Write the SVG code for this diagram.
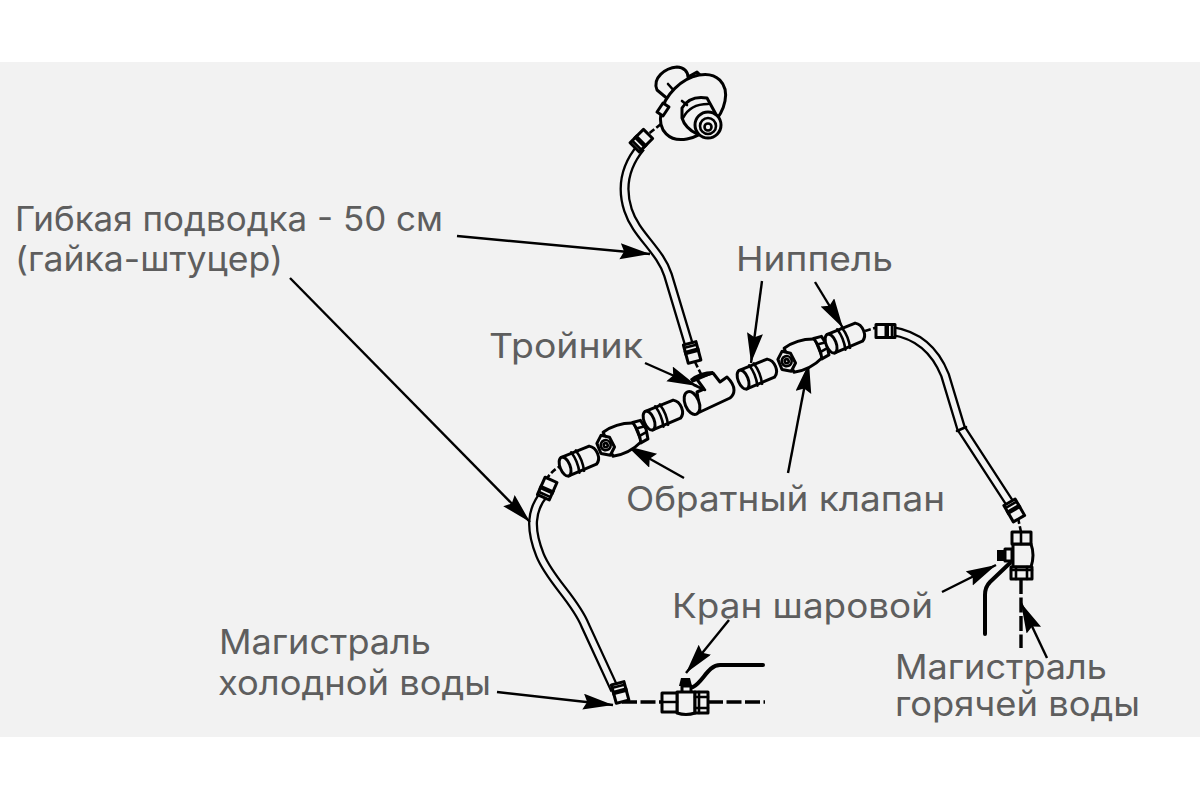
<svg xmlns="http://www.w3.org/2000/svg" width="1200" height="800" viewBox="0 0 1200 800">
<style>
.l{font-family:Inter,"Open Sans","Liberation Sans",sans-serif;font-size:33.5px;fill:#5e5e5e}
.s{fill:none;stroke:#000;stroke-width:2.6;stroke-linejoin:round;stroke-linecap:round}
.f{fill:#f2f2f2;stroke:#000;stroke-width:3;stroke-linejoin:round}
.h{fill:none;stroke:#000;stroke-width:10;stroke-linecap:butt}
.hi{fill:none;stroke:#f2f2f2;stroke-width:5.4;stroke-linecap:butt}
.d{fill:none;stroke:#000;stroke-width:2.6;stroke-dasharray:6 2.5}
.m{fill:none;stroke:#000;stroke-width:3.4;stroke-dasharray:15 3.5}
.b{fill:none;stroke:#000;stroke-width:4;stroke-linejoin:round;stroke-linecap:round}
.a{fill:none;stroke:#000;stroke-width:2.4;marker-end:url(#ah)}
</style>
<defs>
<marker id="ah" markerUnits="userSpaceOnUse" markerWidth="32" markerHeight="18" refX="30" refY="8" orient="auto"><path d="M0 0L30 8L0 16L4 8Z" fill="#000"/></marker>
<g id="nipple">
<path class="f" d="M-15-10H15Q20-7 20 0Q20 7 15 9.500L-15 10Z"/>
<ellipse class="f" cx="-15" cy="0" rx="5" ry="10"/>
<path class="s" d="M-4-11Q-1 0-4 11M1-11Q4 0 1 11"/>
</g>
<g id="check">
<path class="f" d="M-14-13Q2-17 18-10L18 10Q2 17-14 13Z"/>
<path class="f" d="M17-11L25-10L27 0L25 10L17 11Q20 0 17-11Z"/>
<path class="s" d="M19-4L26-3M19 4L26 3"/>
<path class="f" d="M-24-5L-17-11L-10-6L-9 5L-16 11L-24 6Z"/>
<circle class="s" cx="-16.500" cy="0" r="5"/>
<circle class="s" cx="-16.500" cy="0" r="2"/>
</g>
<g id="fit">
<path class="f" d="M-6.500-9H6.500V10H-6.500Z"/>
<path d="M-8-3H8V1.500H-8Z" fill="#000"/>
<path class="s" d="M-6-6H6"/>
</g>
</defs>
<rect width="1200" height="800" fill="#fff"/>
<rect id="bg" y="62" width="1200" height="675" fill="#f2f2f2"/>

<g id="connectors">
<path class="h" d="M641 147C626 165 620 185 628 210C636 235 660 250 668 275L689 345"/>
<path class="hi" d="M641 147C626 165 620 185 628 210C636 235 660 250 668 275L689 345"/>
<path class="h" d="M545 493C530 510 530 530 540 555C550 580 575 600 585 625L615 690"/>
<path class="hi" d="M545 493C530 510 530 530 540 555C550 580 575 600 585 625L615 690"/>
<path class="h" d="M892 331C918 335 935 350 945 375L961 428L1011 505"/>
<path class="hi" d="M892 331C918 335 935 350 945 375L961 428L1011 505"/>
<path class="s" d="M957 431L966 427"/>
<path class="d" d="M661 124L647 135M695 362L702 376M546 480Q552 470 561 466M865 331L878 327M1018 518L1021 532"/>
<path class="m" d="M622 702H662M708 702H765M1021 579V648"/>
<path class="b" d="M693 687C703 682 708 665 720 665H763"/>
<path class="b" d="M1010 563L990 582Q985 587 985 595V634"/>
<path class="a" d="M457 236L650 254"/>
<path class="a" d="M290 278L530 522"/>
<path class="a" d="M645 363L697 386"/>
<path class="a" d="M762 281L751 363"/>
<path class="a" d="M815 282L843 328"/>
<path class="a" d="M684 478L627 446"/>
<path class="a" d="M788 473L809 363"/>
<path class="a" d="M729 620L686 673"/>
<path class="a" d="M497 692L613 705"/>
<path class="a" d="M1047 658L1021 603"/>
<path class="a" d="M942 592L996 565"/>
</g>

<g id="faucet">
<path class="f" d="M657 90C652 78 665 68 677 67C684 67 688 72 688 77L697 72L703 78L698 95L675 105Z"/>
<path class="s" d="M668 84L676 93" stroke-width="3"/>
<ellipse class="f" cx="693" cy="107" rx="38" ry="26" transform="rotate(-45 693 107)"/>
<path class="f" d="M657 112L663 103L669 107L663 116Z"/>
<path class="f" d="M682 108Q690 95 707 98L718 118L697 134Q685 128 682 118Z"/>
<path class="s" d="M682 101L687 105" stroke-width="4"/>
<path class="s" d="M683 118Q690 104 708 104" stroke-width="3"/>
<circle class="f" cx="708" cy="125" r="13"/>
<circle class="s" cx="708" cy="126" r="8"/>
<circle class="s" cx="708" cy="127" r="3.500"/>
</g>
<g id="fitting-top"><use href="#fit" transform="translate(641 141) rotate(-135)"/></g>
<g id="fitting-tee"><use href="#fit" transform="translate(692 352) rotate(-15)"/></g>
<g id="fitting-left"><use href="#fit" transform="translate(547 489) rotate(-156)"/></g>
<g id="fitting-right"><use href="#fit" transform="translate(886 331) rotate(90)"/></g>
<g id="fitting-cold"><use href="#fit" transform="translate(620 692) rotate(-15)"/></g>
<g id="fitting-hot"><use href="#fit" transform="translate(1014 510) rotate(-30)"/></g>

<g id="nipple-1"><use href="#nipple" transform="translate(579 461) rotate(-22)"/></g>
<g id="check-1"><use href="#check" transform="translate(621 439) rotate(-22)"/></g>
<g id="nipple-2"><use href="#nipple" transform="translate(663 415) rotate(-22)"/></g>
<g id="tee">
<path class="f" d="M697 392L704 389L696 378L713 373L720 382L727 377Q734 384 734 390Q734 395 730 398L700 412Z"/>
<path d="M690 379Q700 371 713 371L713 374L692 383Z" fill="#000"/>
<path class="s" d="M694 385L705 390"/>
<ellipse class="f" cx="692" cy="403" rx="7" ry="12" transform="rotate(-22 692 403)" stroke-width="3.600"/>
</g>
<g id="nipple-3"><use href="#nipple" transform="translate(757 374) rotate(-22)"/></g>
<g id="check-2"><use href="#check" transform="translate(802 355) rotate(-22)"/></g>
<g id="nipple-4"><use href="#nipple" transform="translate(845 338) rotate(-22)"/></g>

<g id="valve-cold">
<path d="M681 678H690L692 686H679Z" fill="#000"/>
<rect class="f" x="682" y="686" width="9" height="7"/>
<path class="f" d="M677 692H695V713Q686 716 677 713Z"/>
<rect class="f" x="662" y="693" width="15" height="19"/>
<path class="s" d="M662 702H677" stroke-width="3"/>
<rect class="f" x="695" y="692" width="13" height="21"/>
<path class="s" d="M699 692V713"/>
<path class="s" d="M695 697H708M695 708H708"/>
</g>
<g id="valve-hot">
<path class="f" d="M1013 544H1031Q1035 555 1031 567H1013Z"/>
<rect class="f" x="1012" y="532" width="19" height="12"/>
<path class="s" d="M1021 532V544" stroke-width="3"/>
<rect class="f" x="1011" y="567" width="21" height="12"/>
<path class="s" d="M1016 567V579M1027 567V579M1011 570H1032"/>
<rect x="997" y="550" width="8" height="11" fill="#000"/>
<path class="f" d="M1005 549H1012V561H1005Z"/>
</g>

<g id="labels">
<text class="l" x="15" y="231" textLength="428" lengthAdjust="spacingAndGlyphs">Гибкая подводка - 50 см</text>
<text class="l" x="15" y="271" textLength="268" lengthAdjust="spacingAndGlyphs">(гайка-штуцер)</text>
<text class="l" x="736" y="271" textLength="157" lengthAdjust="spacingAndGlyphs">Ниппель</text>
<text class="l" x="489" y="358" textLength="154" lengthAdjust="spacingAndGlyphs">Тройник</text>
<text class="l" x="626" y="511" textLength="319" lengthAdjust="spacingAndGlyphs">Обратный клапан</text>
<text class="l" x="672" y="618" textLength="261" lengthAdjust="spacingAndGlyphs">Кран шаровой</text>
<text class="l" x="219" y="654" textLength="212" lengthAdjust="spacingAndGlyphs">Магистраль</text>
<text class="l" x="218" y="695" textLength="273" lengthAdjust="spacingAndGlyphs">холодной воды</text>
<text class="l" x="895" y="679" textLength="212" lengthAdjust="spacingAndGlyphs">Магистраль</text>
<text class="l" x="895" y="716" textLength="245" lengthAdjust="spacingAndGlyphs">горячей воды</text>
</g>
</svg>
